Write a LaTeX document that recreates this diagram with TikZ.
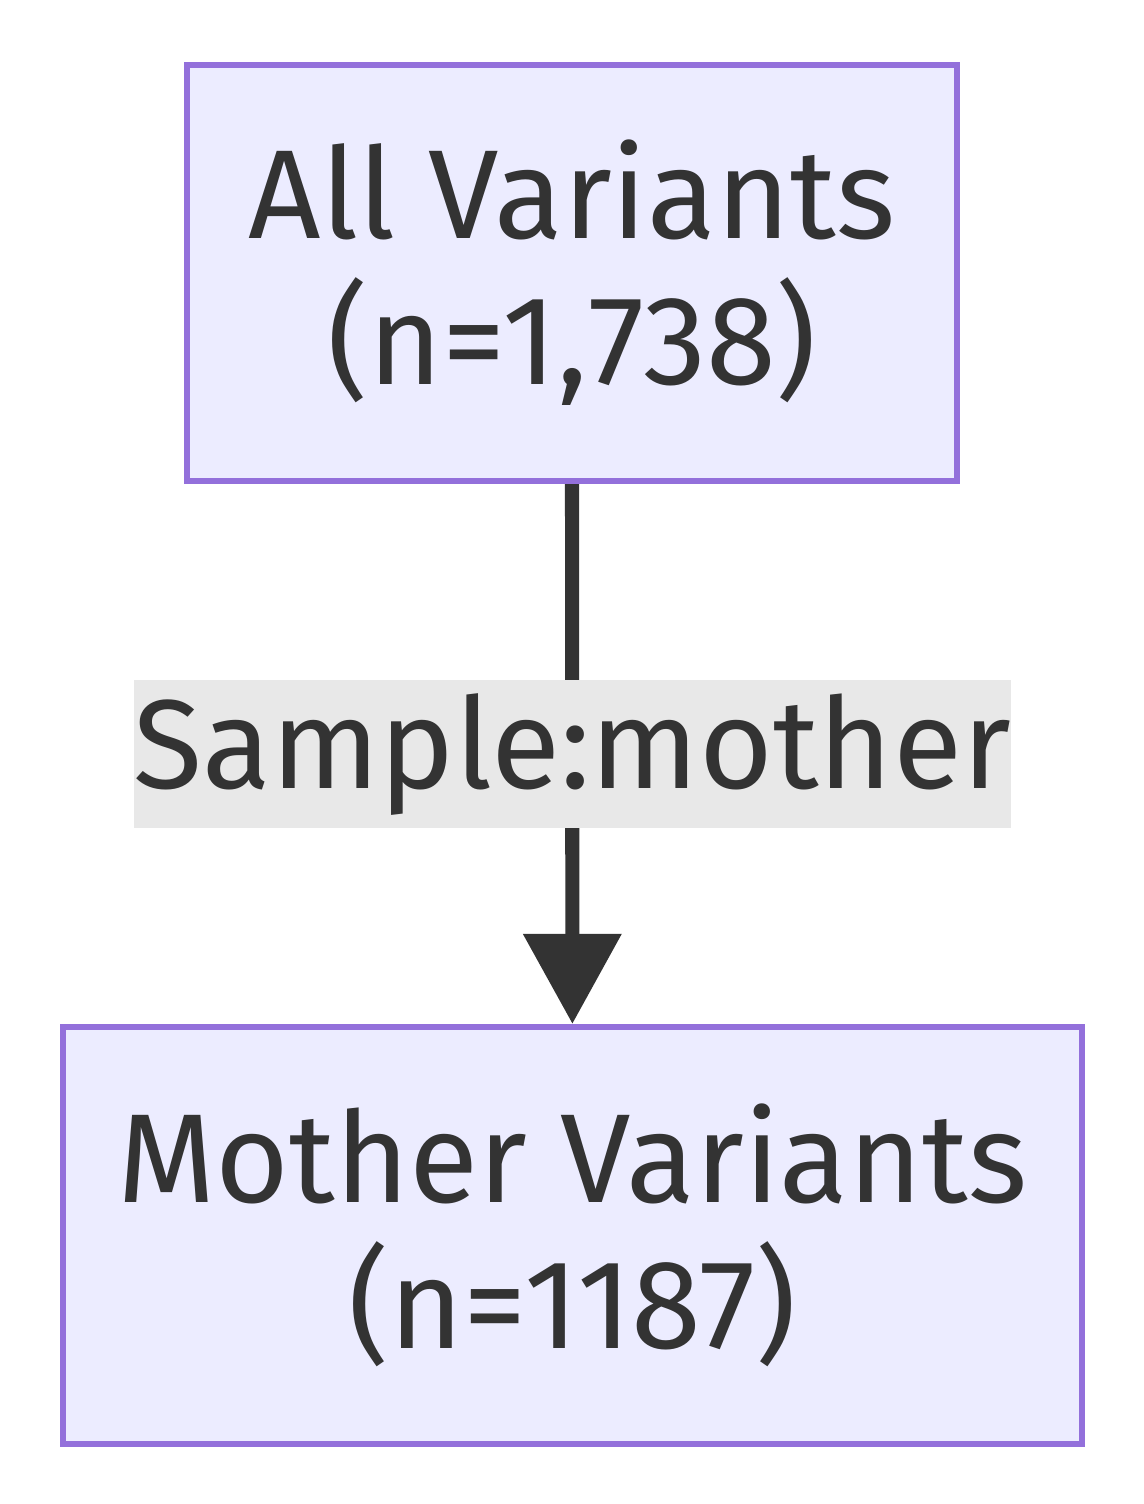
\documentclass[tikz,border=0pt]{standalone}
\usepackage{fontspec}
\setmainfont{Fira Sans}
\usetikzlibrary{positioning, arrows.meta}
\usepackage{xcolor}
\definecolor{mmfill}{HTML}{ECECFF}
\definecolor{mmline}{HTML}{9370DB}
\definecolor{mmtext}{HTML}{333333}
\definecolor{mmlabel}{HTML}{E8E8E8}

\tikzset{
  varbox/.style={draw=mmline, fill=mmfill, line width=4.5pt,
                 text=mmtext, align=center, inner sep=0pt,
                 font=\fontsize{90}{104}\selectfont},
  edgelabel/.style={fill=mmlabel, text=mmtext, inner sep=0pt,
                    minimum width=21.875cm, minimum height=3.7cm,
                    font=\fontsize{90}{104}\selectfont},
  flow/.style={draw=mmtext, line width=10pt,
               -{Triangle[width=2.375cm, length=2.25cm]}}
}

\begin{document}
\begin{tikzpicture}
    \useasboundingbox (0,0) rectangle (28.6,-37.6);
    \node[varbox, minimum width=19.25cm, minimum height=10.4cm]
         (all) at (14.3,-6.825) {All Variants\\(n=1,738)};
    \node[varbox, minimum width=25.475cm, minimum height=10.425cm]
         (mother) at (14.31,-30.89) {Mother Variants\\(n=1187)};
    \draw[flow] (all.south) -- (mother.north)
         node[midway, edgelabel] (sample) {Sample:mother};
\end{tikzpicture}
\end{document}
